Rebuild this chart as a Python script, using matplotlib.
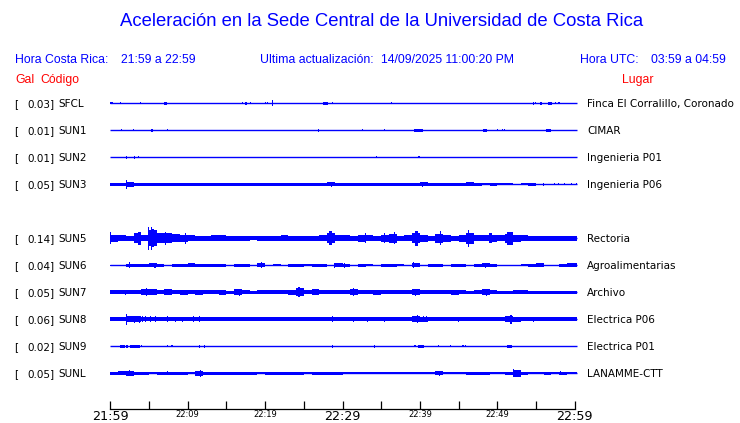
import numpy as np
import matplotlib
matplotlib.use('Agg')
import matplotlib.pyplot as plt

# estaciones
codes = ['SFCL', 'SUN1', 'SUN2', 'SUN3', 'SUN5', 'SUN6', 'SUN7', 'SUN8', 'SUN9', 'SUNL']
gal = [0.03, 0.01, 0.01, 0.05, 0.14, 0.04, 0.05, 0.06, 0.02, 0.05]
places = ['Finca El Corralillo, Coronado', 'CIMAR', 'Ingenieria P01', 'Ingenieria P06',
          'Rectoria', 'Agroalimentarias', 'Archivo', 'Electrica P06', 'Electrica P01',
          'LANAMME-CTT']

time_labels = ['21:59', '22:09', '22:19', '22:29', '22:39', '22:49', '22:59']

# envolvente por minuto (semi-amplitud)
sun3_env = [1.7, 1.7, 2.5, 1.7, 1.7, 1.7, 1.4, 1.7, 1.5, 1.7,
            1.7, 1.7, 1.7, 1.5, 1.7, 1.7, 1.7, 1.7, 1.3, 1.3,
            1.7, 1.5, 1.7, 1.3, 1.7, 1.5, 1.7, 1.7, 2.0, 1.5,
            1.7, 1.7, 1.6, 1.7, 1.7, 1.7, 1.6, 1.7, 1.7, 1.7,
            2.0, 1.7, 1.6, 1.6, 1.7, 1.7, 2.0, 1.3, 1.0, 1.5,
            1.0, 1.2, 0.5, 1.0, 1.5, 0.5, 0.6, 0.6, 0.5, 0.6]
sun5_env = [3.5, 3.0, 2.5, 5.0, 3.0, 8.0, 5.0, 5.0, 4.0, 3.5,
            3.0, 2.5, 2.5, 3.0, 3.0, 2.5, 2.5, 2.5, 2.2, 2.3,
            2.5, 2.3, 3.0, 2.5, 2.7, 2.5, 2.5, 3.0, 5.0, 3.0,
            3.0, 2.7, 3.5, 3.0, 2.5, 3.5, 4.5, 2.5, 3.0, 5.0,
            3.5, 2.5, 4.5, 3.5, 2.7, 3.5, 5.5, 3.0, 3.0, 3.5,
            3.0, 4.5, 3.5, 3.0, 2.5, 2.5, 2.5, 2.5, 2.5, 2.5]
sun6_env = [0.5, 0.5, 1.7, 1.7, 1.7, 1.8, 1.7, 0.5, 1.7, 1.7,
            1.8, 1.7, 1.7, 1.7, 1.7, 0.5, 1.5, 1.7, 0.5, 2.0,
            0.5, 1.2, 0.5, 1.7, 1.7, 1.0, 1.7, 1.7, 0.5, 1.8,
            1.5, 0.5, 1.7, 1.2, 0.5, 1.7, 1.7, 1.0, 0.5, 1.8,
            0.5, 1.7, 1.5, 0.5, 1.7, 1.5, 0.5, 1.7, 1.8, 1.7,
            0.5, 0.5, 0.5, 1.0, 1.7, 1.8, 0.5, 0.5, 1.7, 1.8]
sun7_env = [2.0, 2.0, 2.0, 1.8, 3.0, 3.0, 1.8, 3.0, 2.0, 2.5,
            2.0, 2.5, 1.8, 2.0, 2.5, 1.5, 3.0, 2.0, 1.6, 2.0,
            2.0, 2.0, 2.0, 2.5, 4.0, 2.0, 2.8, 2.0, 2.2, 2.0,
            2.0, 3.0, 1.8, 1.8, 2.5, 1.8, 1.8, 2.0, 1.8, 3.0,
            2.0, 2.0, 1.8, 1.8, 2.5, 2.0, 1.6, 1.8, 3.0, 2.0,
            1.5, 1.6, 2.2, 1.8, 1.5, 1.5, 1.6, 1.6, 1.5, 1.6]
sun8_env = [2.0, 2.2, 3.0, 3.0, 2.2, 2.2, 2.2, 2.0, 2.2, 2.0,
            2.0, 2.0, 2.0, 2.0, 2.0, 2.0, 2.0, 2.0, 2.0, 2.0,
            2.0, 2.0, 2.0, 2.0, 2.0, 2.0, 2.0, 2.0, 2.2, 2.0,
            2.0, 2.0, 2.0, 2.0, 2.0, 2.0, 2.0, 2.0, 2.0, 3.0,
            2.5, 2.0, 2.0, 2.0, 2.0, 2.0, 2.0, 2.0, 2.0, 2.0,
            2.0, 3.0, 2.3, 2.0, 2.0, 2.0, 2.0, 2.0, 2.0, 2.0]
sunl_env = [1.3, 1.8, 2.5, 1.5, 1.3, 1.0, 1.3, 1.6, 1.3, 1.3,
            1.0, 2.5, 1.4, 1.3, 1.3, 1.3, 1.3, 1.3, 1.3, 1.0,
            1.3, 1.3, 1.3, 1.3, 1.3, 1.2, 1.3, 1.3, 1.5, 1.3,
            1.2, 1.2, 1.2, 1.0, 1.2, 1.2, 1.0, 1.2, 1.2, 1.2,
            1.2, 1.2, 2.0, 1.2, 1.2, 1.2, 1.3, 1.3, 1.3, 1.0,
            1.0, 1.5, 3.5, 1.5, 1.2, 1.2, 1.3, 1.2, 1.5, 1.2]

# picos y rafagas: (minuto inicio, minuto fin, semi-amplitud)
sfcl_bursts = [(0.0, 0.3, 1.2), (1.2, 1.2, 1.0), (3.8, 3.8, 1.0), (7.0, 7.3, 1.5),
               (17.0, 17.0, 1.2), (17.4, 17.6, 1.5), (18.0, 18.0, 1.2), (20.0, 20.0, 0.8),
               (20.2, 20.2, 0.8), (20.9, 20.9, 3.2), (27.5, 28.1, 1.5), (28.6, 28.6, 1.0),
               (36.3, 36.3, 1.0), (54.6, 54.6, 1.5), (54.9, 54.9, 1.2), (55.5, 55.8, 1.3),
               (56.5, 57.1, 1.5), (57.4, 57.4, 1.0), (57.9, 57.9, 1.0)]
sun1_bursts = [(1.4, 1.4, 1.0), (2.9, 2.9, 0.8), (5.2, 5.5, 1.5), (7.3, 7.3, 1.2),
               (26.8, 26.8, 1.3), (32.5, 32.5, 1.0), (35.3, 35.3, 1.0), (39.3, 40.4, 1.5),
               (48.1, 48.7, 1.5), (50.0, 50.0, 1.2), (50.6, 50.6, 1.2), (50.9, 50.9, 0.8),
               (56.3, 56.9, 1.5)]
sun2_bursts = [(2.0, 2.0, 1.5), (3.0, 3.0, 1.5), (3.6, 3.6, 1.0), (34.3, 34.3, 1.2),
               (39.8, 39.8, 1.2)]
sun3_bursts = [(2.0, 2.0, 4.3), (28.5, 28.5, 2.6), (40.3, 40.3, 2.5), (55.9, 55.9, 1.3),
               (57.3, 57.3, 1.2), (57.8, 57.8, 1.2), (58.6, 58.6, 1.2), (59.5, 59.5, 1.2),
               (60.2, 60.2, 1.2)]
sun5_bursts = [(0.0, 0.0, 6.0), (3.6, 4.0, 6.5), (4.9, 5.0, 11.7), (5.2, 5.3, 11.5),
               (5.4, 5.6, 9.0), (7.1, 7.1, 6.5), (9.6, 9.6, 5.5), (28.2, 28.6, 7.0),
               (32.9, 32.9, 4.8), (35.3, 35.3, 4.8), (36.6, 36.8, 6.0), (39.4, 39.8, 7.5),
               (42.6, 42.6, 6.8), (46.2, 46.4, 8.3), (48.9, 49.3, 5.0), (51.3, 52.0, 6.7)]
sun6_bursts = [(2.4, 2.4, 3.0), (5.7, 5.7, 2.6), (19.5, 19.5, 2.8), (28.9, 28.9, 2.5),
               (30.2, 30.2, 2.5), (39.1, 39.1, 2.8), (48.4, 48.4, 2.6)]
sun7_bursts = [(1.9, 1.9, 2.6), (4.6, 4.6, 3.8), (16.6, 16.6, 3.7), (24.3, 24.3, 4.8),
               (26.3, 26.3, 3.0), (31.3, 31.3, 3.8), (39.4, 39.4, 3.6), (48.5, 48.5, 3.6)]
sun8_bursts = [(2.0, 2.0, 5.5), (3.0, 3.0, 3.5), (3.7, 3.7, 3.3), (4.05, 4.05, 2.9),
               (4.5, 4.5, 2.8), (5.1, 5.1, 2.8), (5.8, 5.8, 2.8), (7.3, 7.3, 2.8),
               (8.4, 8.4, 2.7), (9.2, 9.2, 2.7), (10.7, 10.7, 2.8), (11.5, 11.5, 2.8),
               (28.6, 28.6, 3.0), (31.3, 31.3, 2.7), (33.2, 33.2, 2.7), (35.4, 35.4, 2.7),
               (39.6, 39.6, 3.8), (40.4, 40.4, 3.0), (40.8, 40.8, 3.0), (44.9, 44.9, 2.7),
               (51.7, 51.7, 4.7), (54.6, 54.6, 2.5)]
sun9_bursts = [(1.25, 1.9, 1.3), (2.0, 2.3, 1.3), (2.5, 3.8, 1.5), (3.97, 3.97, 1.2),
               (7.3, 7.3, 1.2), (7.9, 7.9, 0.8), (11.5, 11.5, 1.5), (12.1, 12.1, 1.5),
               (28.6, 28.6, 1.5), (34.1, 34.1, 1.3), (39.3, 39.3, 1.0), (39.8, 40.5, 1.3),
               (42.3, 42.3, 1.0), (43.9, 43.9, 1.2), (45.5, 45.5, 1.0), (45.8, 45.8, 1.0),
               (51.3, 51.9, 1.7)]
sunl_bursts = [(2.4, 2.4, 3.0), (7.3, 7.3, 2.0), (11.6, 11.6, 3.7), (42.5, 42.5, 2.7),
               (52.0, 52.0, 4.2), (58.1, 58.1, 2.0)]

envs = {'SUN3': sun3_env, 'SUN5': sun5_env, 'SUN6': sun6_env, 'SUN7': sun7_env,
        'SUN8': sun8_env, 'SUNL': sunl_env}
bursts = {'SFCL': sfcl_bursts, 'SUN1': sun1_bursts, 'SUN2': sun2_bursts,
          'SUN3': sun3_bursts, 'SUN5': sun5_bursts, 'SUN6': sun6_bursts,
          'SUN7': sun7_bursts, 'SUN8': sun8_bursts, 'SUN9': sun9_bursts,
          'SUNL': sunl_bursts}

BLUE = '#0000FF'
RED = '#FF0000'
W, H = 740, 423
x0 = 110.3
ppm = 7.74  # pixeles por minuto
t_end = 60.3

fig = plt.figure(figsize=(W / 100, H / 100), dpi=100)
ax = fig.add_axes([0, 0, 1, 1])
ax.set_xlim(-x0 / ppm, (W - x0) / ppm)
ax.set_ylim(H, 0)
ax.axis('off')


def ftext(x, y, s, **kw):
    fig.text(x / W, 1 - y / H, s, **kw)


head = dict(family='Liberation Sans', fontsize=8.8, color=BLUE, va='center')
ftext(382, 22, 'Aceleración en la Sede Central de la Universidad de Costa Rica',
      family='Liberation Sans', fontsize=13.3, color=BLUE, ha='center', va='center')
ftext(15, 60, 'Hora Costa Rica:', **head)
ftext(121, 60, '21:59 a 22:59', **head)
ftext(260, 60, 'Ultima actualización:', **head)
ftext(381, 60, '14/09/2025 11:00:20 PM', **head)
ftext(580, 60, 'Hora UTC:', **head)
ftext(651, 60, '03:59 a 04:59', **head)
red = dict(family='Liberation Sans', fontsize=8.8, color=RED, va='center')
ftext(15, 80, 'Gal', **red)
ftext(40, 80, 'Código', **red)
ftext(622, 80, 'Lugar', **red)

lab = dict(family='DejaVu Sans', fontsize=7.5, color='black', va='center_baseline')
for i, code in enumerate(codes):
    slot = i + (1 if i >= 4 else 0)  # SUN4 no aparece
    base = 103.3 + 27 * slot
    ax.hlines(base, 0, t_end, color=BLUE, lw=1.0)
    e = envs.get(code)
    if e is not None:
        a = np.array(e + [e[-1]])
        t = np.arange(len(a), dtype=float)
        t[-1] = t_end
        ax.fill_between(t, base - a, base + a, step='post', color=BLUE, lw=0)
    for t0, t1, amp in bursts.get(code, []):
        ax.bar(t0, 2 * amp, width=max(t1 - t0, 0.15), bottom=base - amp,
               align='edge', color=BLUE, lw=0)
    ftext(14, base, '[', **lab)
    ftext(55, base, f'{gal[i]:.2f}]', ha='right', **lab)
    ftext(58.5, base, code, **lab)
    ftext(587, base, places[i], **lab)

# eje de tiempo: etiquetas grandes cada 30 min, pequenas cada 10, marcas cada 5
tax = fig.add_axes([x0 / W, (H - 409) / H, 60 * ppm / W, 0.001])
tax.set_xlim(0, 60)
tax.set_yticks([])
for s in ['top', 'left', 'right']:
    tax.spines[s].set_visible(False)
tax.spines['bottom'].set_linewidth(0.9)
major = [0, 30, 60]
minor = [m for m in range(5, 60, 5) if m != 30]
tax.set_xticks(major)
tax.set_xticklabels([time_labels[m // 10] for m in major])
tax.set_xticks(minor, minor=True)
tax.set_xticklabels([time_labels[m // 10] if m % 10 == 0 else '' for m in minor],
                    minor=True)
tax.tick_params(axis='x', which='both', direction='in', length=5.8, width=0.9)
tax.tick_params(axis='x', which='major', pad=7.9, labelsize=9.2)
tax.tick_params(axis='x', which='minor', pad=5.8, labelsize=6)
for lb in tax.get_xticklabels() + tax.get_xticklabels(minor=True):
    lb.set_va('baseline')
    lb.set_family('DejaVu Sans')

fig.savefig('out.png', dpi=100)
